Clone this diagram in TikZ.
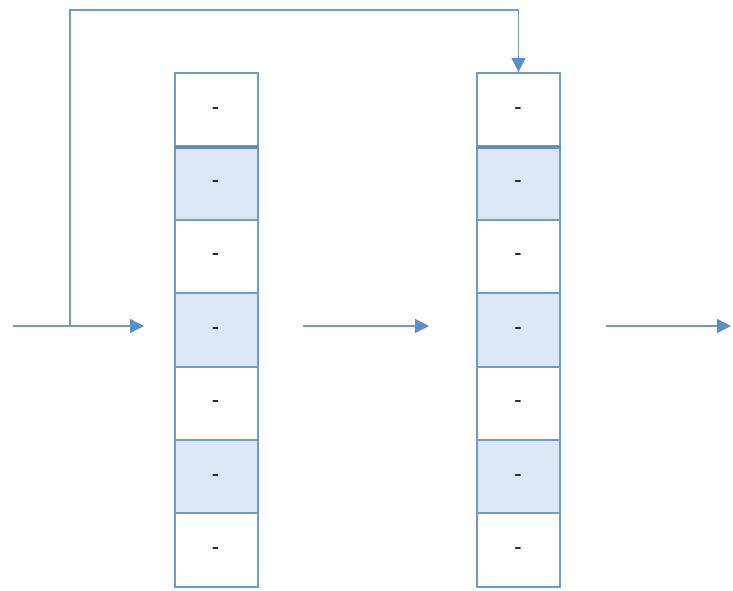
\documentclass[tikz,border=0pt]{standalone}
\usetikzlibrary{arrows.meta}
\definecolor{edge}{HTML}{6F9CC6}
\definecolor{tip}{HTML}{5A8EC6}
\definecolor{shade}{HTML}{DCE7F5}
\begin{document}
\begin{tikzpicture}[x=1pt,y=-1pt,
  cell/.style={draw=edge,line width=2pt,minimum width=83pt,minimum height=73.4pt,
    inner sep=0pt,font=\fontsize{18}{18}\selectfont\bfseries,text=black},
  filled/.style={cell,fill=shade},
  flow/.style={draw=edge,line width=1.4pt,-{Triangle[length=14pt,width=14pt,fill=tip,color=tip]}}]
\useasboundingbox (0,0) rectangle (733,591);
% two stacks of seven cells
\foreach \c/\x in {L/216,R/518.5}{
  \foreach \i in {1,...,7}{
    \pgfmathsetmacro{\yy}{73+73.4*(\i-0.5)}
    \ifodd\i
      \node[cell] (\c\i) at (\x,\yy) {-};
    \else
      \node[filled] (\c\i) at (\x,\yy) {-};
    \fi
  }
  % heavier rule under the first cell
  \draw[edge!90!black,line width=3.4pt] (\c1.south west) -- (\c1.south east);
}
% flow coordinates
\coordinate (in) at (13,326);
\coordinate (split) at (70,326);
\coordinate (inend) at (144,326);
\coordinate (mid1) at (303,326);
\coordinate (mid2) at (429,326);
\coordinate (out1) at (606,326);
\coordinate (out2) at (731,326);
\coordinate (top) at (70,10);
\draw[flow] (in) -- (inend);
\draw[flow] (mid1) -- (mid2);
\draw[flow] (out1) -- (out2);
% feedback loop into the head of the second stack
\draw[flow] (split) -- (top) -| (R1.north);
\end{tikzpicture}
\end{document}
